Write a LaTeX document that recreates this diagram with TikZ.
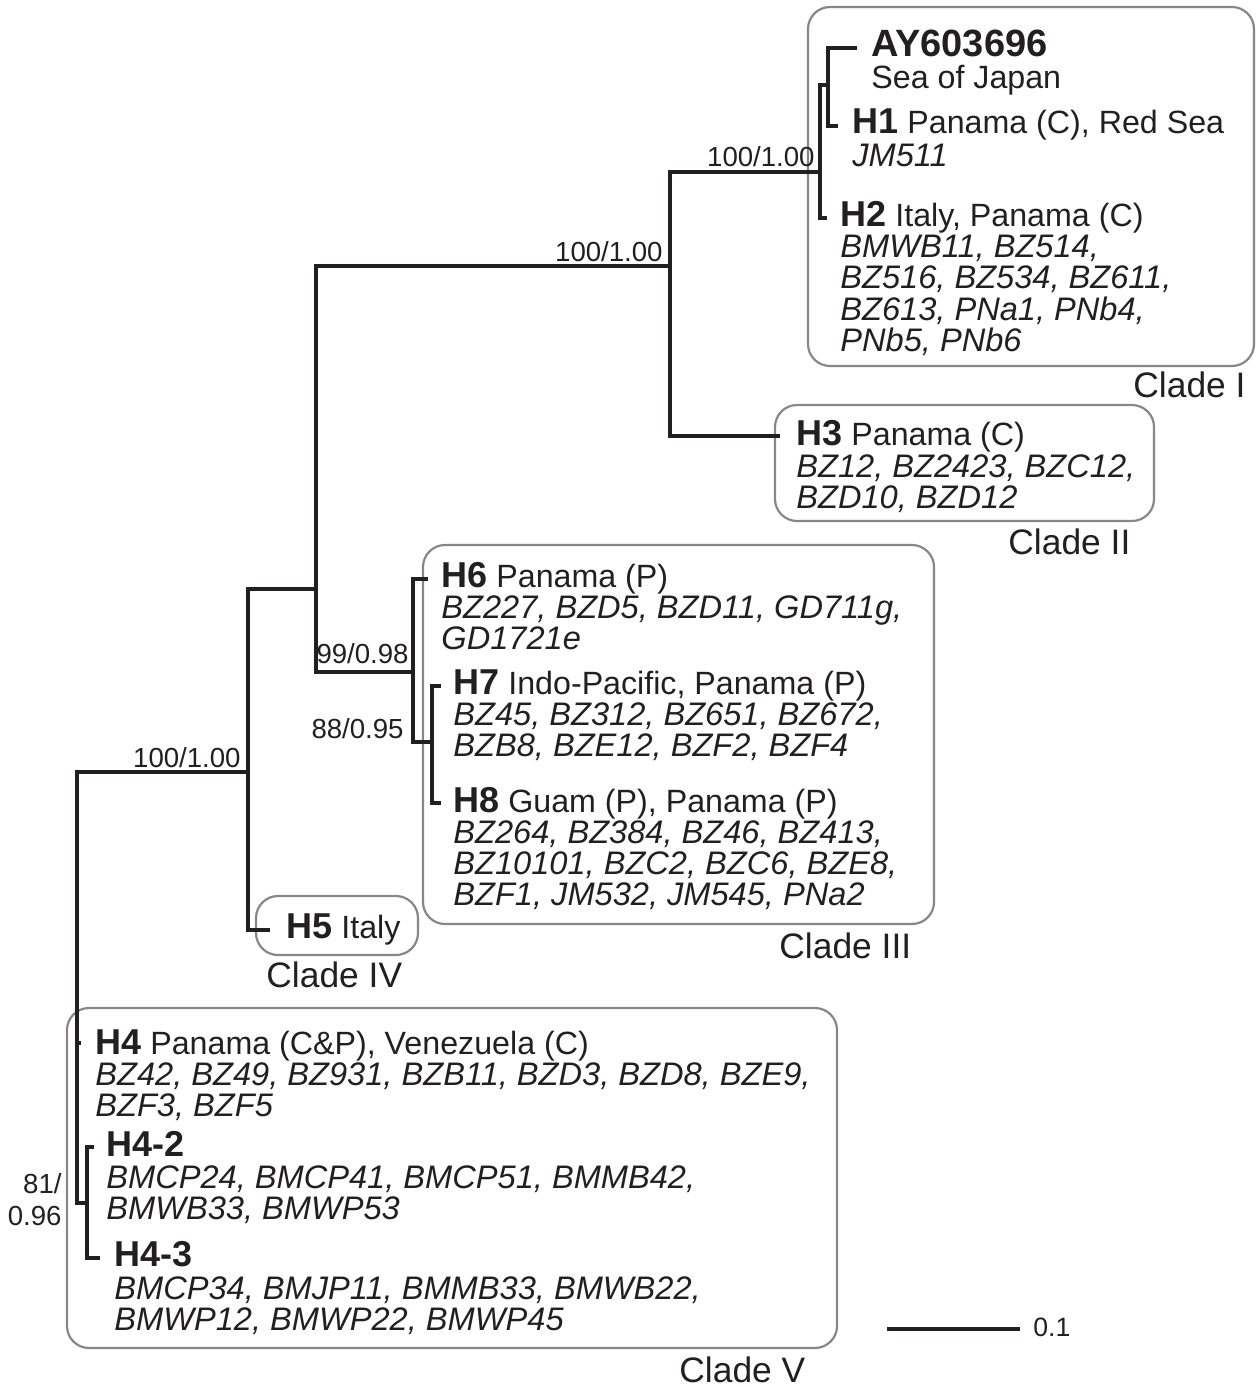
\documentclass[tikz,border=0pt]{standalone}
\usepackage{fontspec}
\setmainfont{Liberation Sans}
\definecolor{ink}{RGB}{35,31,32}
\definecolor{boxgray}{RGB}{135,135,135}
\newcommand{\hdl}[1]{{\fontsize{18}{20}\selectfont\bfseries #1}}
\tikzset{
  br/.style={draw=ink, line width=2.2pt, line join=miter},
  boxs/.style={draw=boxgray, line width=1.1pt, rounded corners=11pt},
  txt/.style={anchor=base west, inner sep=0pt, text=ink, font=\fontsize{16.1}{18}\selectfont},
  itx/.style={txt, font=\fontsize{16.3}{18}\selectfont\itshape},
  sup/.style={anchor=base east, inner sep=0pt, text=ink, font=\fontsize{13.8}{15}\selectfont},
  clade/.style={anchor=base west, inner sep=0pt, text=ink, font=\fontsize{17.7}{20}\selectfont},
}
\begin{document}
\begin{tikzpicture}[x=0.5pt,y=-0.5pt]
\useasboundingbox (0,0) rectangle (1256,1387);

% clade boxes
\draw[boxs] (808,7) rectangle (1254,366);
\draw[boxs] (775,405) rectangle (1154,521);
\draw[boxs] (423,545) rectangle (934,924);
\draw[boxs] (256,896) rectangle (418,955);
\draw[boxs] (67,1008) rectangle (837,1348);

% internal nodes
\coordinate (root) at (77,1043);
\coordinate (nA) at (248,772);
\coordinate (nB) at (316,589);
\coordinate (nC) at (670,266);
\coordinate (nE) at (820,172);
\coordinate (nF) at (828,85);
\coordinate (nD) at (413,672);
\coordinate (nG) at (432,742);
\coordinate (nH4) at (87,1203);
% tips
\coordinate (tAY) at (857,48);
\coordinate (tH1) at (838,126);
\coordinate (tH2) at (827,218);
\coordinate (tH3) at (780,436);
\coordinate (tH6) at (428,579);
\coordinate (tH7) at (441,686);
\coordinate (tH8) at (441,803);
\coordinate (tH5) at (270,930);
\coordinate (tH4) at (81,1043);
\coordinate (tH42) at (94,1147);
\coordinate (tH43) at (100,1258);

% branches
\draw[br] (root) |- (nA);
\draw[br] (root) |- (tH4);
\draw[br] (root) |- (nH4);
\draw[br] (nH4) |- (tH42);
\draw[br] (nH4) |- (tH43);
\draw[br] (nA) |- (nB);
\draw[br] (nA) |- (tH5);
\draw[br] (nB) |- (nC);
\draw[br] (nB) |- (nD);
\draw[br] (nC) |- (nE);
\draw[br] (nC) |- (tH3);
\draw[br] (nE) |- (nF);
\draw[br] (nE) |- (tH2);
\draw[br] (nF) |- (tAY);
\draw[br] (nF) |- (tH1);
\draw[br] (nD) |- (tH6);
\draw[br] (nD) |- (nG);
\draw[br] (nG) |- (tH7);
\draw[br] (nG) |- (tH8);

% support values
\node[sup] (s1) at (815,166) {100/1.00};
\node[sup] (s2) at (663,261) {100/1.00};
\node[sup] (s3) at (409,663) {99/0.98};
\node[sup] (s4) at (404,738) {88/0.95};
\node[sup] (s5) at (241,767) {100/1.00};
\node[sup] (s6a) at (62,1193) {81/};
\node[sup] (s6b) at (62,1225) {0.96};

% Clade I
\node[txt] (ay1) at (871,56) {{\fontsize{19}{21}\selectfont\bfseries AY603696}};
\node[txt] (ay2) at (871,88) {Sea of Japan};
\node[txt] (h1a) at (852,133) {\hdl{H1} Panama (C), Red Sea};
\node[itx] (h1b) at (852,166) {JM511};
\node[txt] (h2a) at (840,226) {\hdl{H2} Italy, Panama (C)};
\node[itx] (h2b) at (840,257) {BMWB11, BZ514,};
\node[itx] (h2c) at (840,288) {BZ516, BZ534, BZ611,};
\node[itx] (h2d) at (840,320) {BZ613, PNa1, PNb4,};
\node[itx] (h2e) at (840,351) {PNb5, PNb6};
% Clade II
\node[txt] (h3a) at (796,445) {\hdl{H3} Panama (C)};
\node[itx] (h3b) at (796,477) {BZ12, BZ2423, BZC12,};
\node[itx] (h3c) at (796,508) {BZD10, BZD12};
% Clade III
\node[txt] (h6a) at (441,587) {\hdl{H6} Panama (P)};
\node[itx] (h6b) at (441,618) {BZ227, BZD5, BZD11, GD711g,};
\node[itx] (h6c) at (441,649) {GD1721e};
\node[txt] (h7a) at (453,694) {\hdl{H7} Indo-Pacific, Panama (P)};
\node[itx] (h7b) at (453,725) {BZ45, BZ312, BZ651, BZ672,};
\node[itx] (h7c) at (453,756) {BZB8, BZE12, BZF2, BZF4};
\node[txt] (h8a) at (453,812) {\hdl{H8} Guam (P), Panama (P)};
\node[itx] (h8b) at (453,843) {BZ264, BZ384, BZ46, BZ413,};
\node[itx] (h8c) at (453,874) {BZ10101, BZC2, BZC6, BZE8,};
\node[itx] (h8d) at (453,905) {BZF1, JM532, JM545, PNa2};
% Clade IV
\node[txt] (h5a) at (286,938) {\hdl{H5} Italy};
% Clade V
\node[txt] (h4a) at (95,1054) {\hdl{H4} Panama (C\&P), Venezuela (C)};
\node[itx] (h4b) at (95,1085) {BZ42, BZ49, BZ931, BZB11, BZD3, BZD8, BZE9,};
\node[itx] (h4c) at (95,1116) {BZF3, BZF5};
\node[txt] (h42a) at (106,1156) {\hdl{H4-2}};
\node[itx] (h42b) at (106,1188) {BMCP24, BMCP41, BMCP51, BMMB42,};
\node[itx] (h42c) at (106,1219) {BMWB33, BMWP53};
\node[txt] (h43a) at (114,1266) {\hdl{H4-3}};
\node[itx] (h43b) at (114,1299) {BMCP34, BMJP11, BMMB33, BMWB22,};
\node[itx] (h43c) at (114,1330) {BMWP12, BMWP22, BMWP45};

% clade labels
\node[clade] (cI) at (1133,397) {Clade I};
\node[clade] (cII) at (1008,554) {Clade II};
\node[clade] (cIII) at (779,958) {Clade III};
\node[clade] (cIV) at (266,987) {Clade IV};
\node[clade] (cV) at (679,1382) {Clade V};

% scale bar
\coordinate (sb1) at (887,1329);
\coordinate (sb2) at (1020,1329);
\draw[br] (sb1) -- (sb2);
\node[anchor=base west, inner sep=0pt, text=ink, font=\fontsize{13.3}{15}\selectfont] (sbl) at (1033,1336) {0.1};
\end{tikzpicture}
\end{document}
